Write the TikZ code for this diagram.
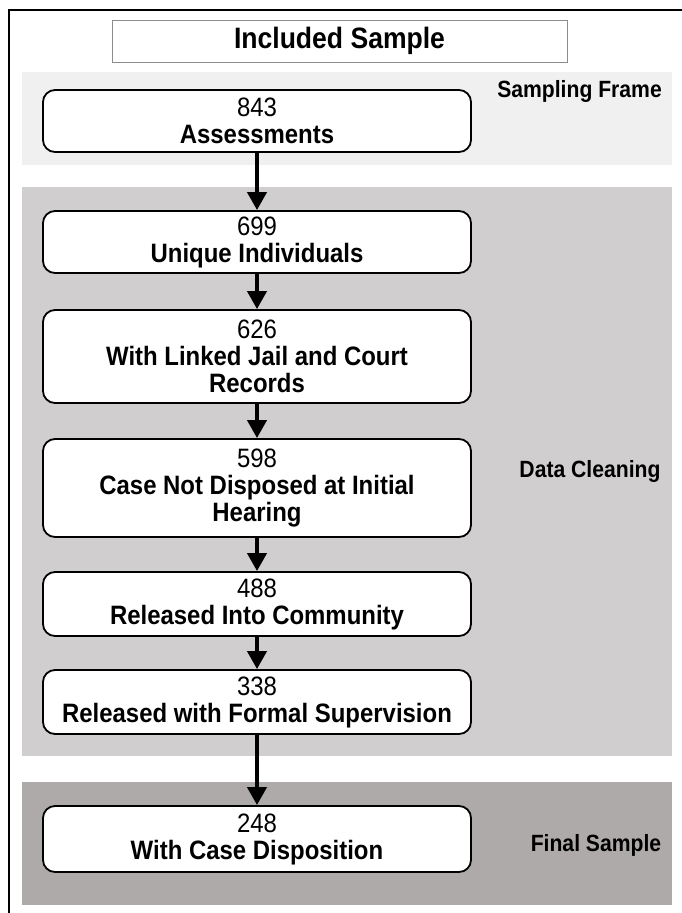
\documentclass[tikz,border=0pt]{standalone}
\usepackage{fontspec}
\setmainfont{Liberation Sans}
\newfontfamily\narrowsans[FakeStretch=0.9]{Liberation Sans}
\usetikzlibrary{arrows.meta}
\definecolor{bandlight}{RGB}{240,240,240}
\definecolor{bandmid}{RGB}{208,206,206}
\definecolor{banddark}{RGB}{174,170,170}
\definecolor{titleedge}{RGB}{140,140,140}
\tikzset{
  stagebox/.style={draw=black, line width=1.8pt, fill=white, rounded corners=12pt,
    minimum width=428pt, inner sep=0pt, align=center,
    font=\narrowsans\fontsize{26.6}{27}\selectfont},
  bandlabel/.style={font=\narrowsans\bfseries\fontsize{23.5}{26}\selectfont, inner sep=0pt},
  flow/.style={line width=4pt, -{Triangle[width=19pt,length=18pt]}},
}
\begin{document}
\begin{tikzpicture}[x=1pt,y=-1pt]
\useasboundingbox (0,0) rectangle (682,913);
% bands behind the stages
\fill[bandlight] (22,72) rectangle (672,165);
\fill[bandmid] (22,187) rectangle (672,756);
\fill[banddark] (22,782) rectangle (672,905);
% outer frame (left and top edges)
\draw[line width=2pt] (9,913) -- (9,10) -- (682,10);
% title
\node (title) [draw=titleedge, line width=1pt, minimum width=455pt, minimum height=42pt,
  inner sep=0pt, font=\narrowsans\bfseries\fontsize{29.5}{30}\selectfont] at (339.5,41) {Included Sample};
% band labels
\node (lblframe) [bandlabel, anchor=east] at (662,91) {Sampling Frame};
\node (lblclean) [bandlabel] at (590,471) {Data Cleaning};
\node (lblfinal) [bandlabel] at (596,845) {Final Sample};
% stages
\node (n843) [stagebox, minimum height=62pt] at (257,121) {843\\\textbf{Assessments}};
\node (n699) [stagebox, minimum height=62pt] at (257,242) {699\\\textbf{Unique Individuals}};
\node (n626) [stagebox, minimum height=93pt] at (257,356.5) {626\\\textbf{With Linked Jail and Court}\\\textbf{Records}};
\node (n598) [stagebox, minimum height=98pt] at (257,488) {598\\\textbf{Case Not Disposed at Initial}\\\textbf{Hearing}};
\node (n488) [stagebox, minimum height=64pt] at (257,604) {488\\\textbf{Released Into Community}};
\node (n338) [stagebox, minimum height=64pt] at (257,702) {338\\\textbf{Released with Formal Supervision}};
\node (n248) [stagebox, minimum height=66pt] at (257,839) {248\\\textbf{With Case Disposition}};
% connectors
\draw[flow] (n843) -- (n699);
\draw[flow] (n699) -- (n626);
\draw[flow] (n626) -- (n598);
\draw[flow] (n598) -- (n488);
\draw[flow] (n488) -- (n338);
\draw[flow] (n338) -- (n248);
\end{tikzpicture}
\end{document}
